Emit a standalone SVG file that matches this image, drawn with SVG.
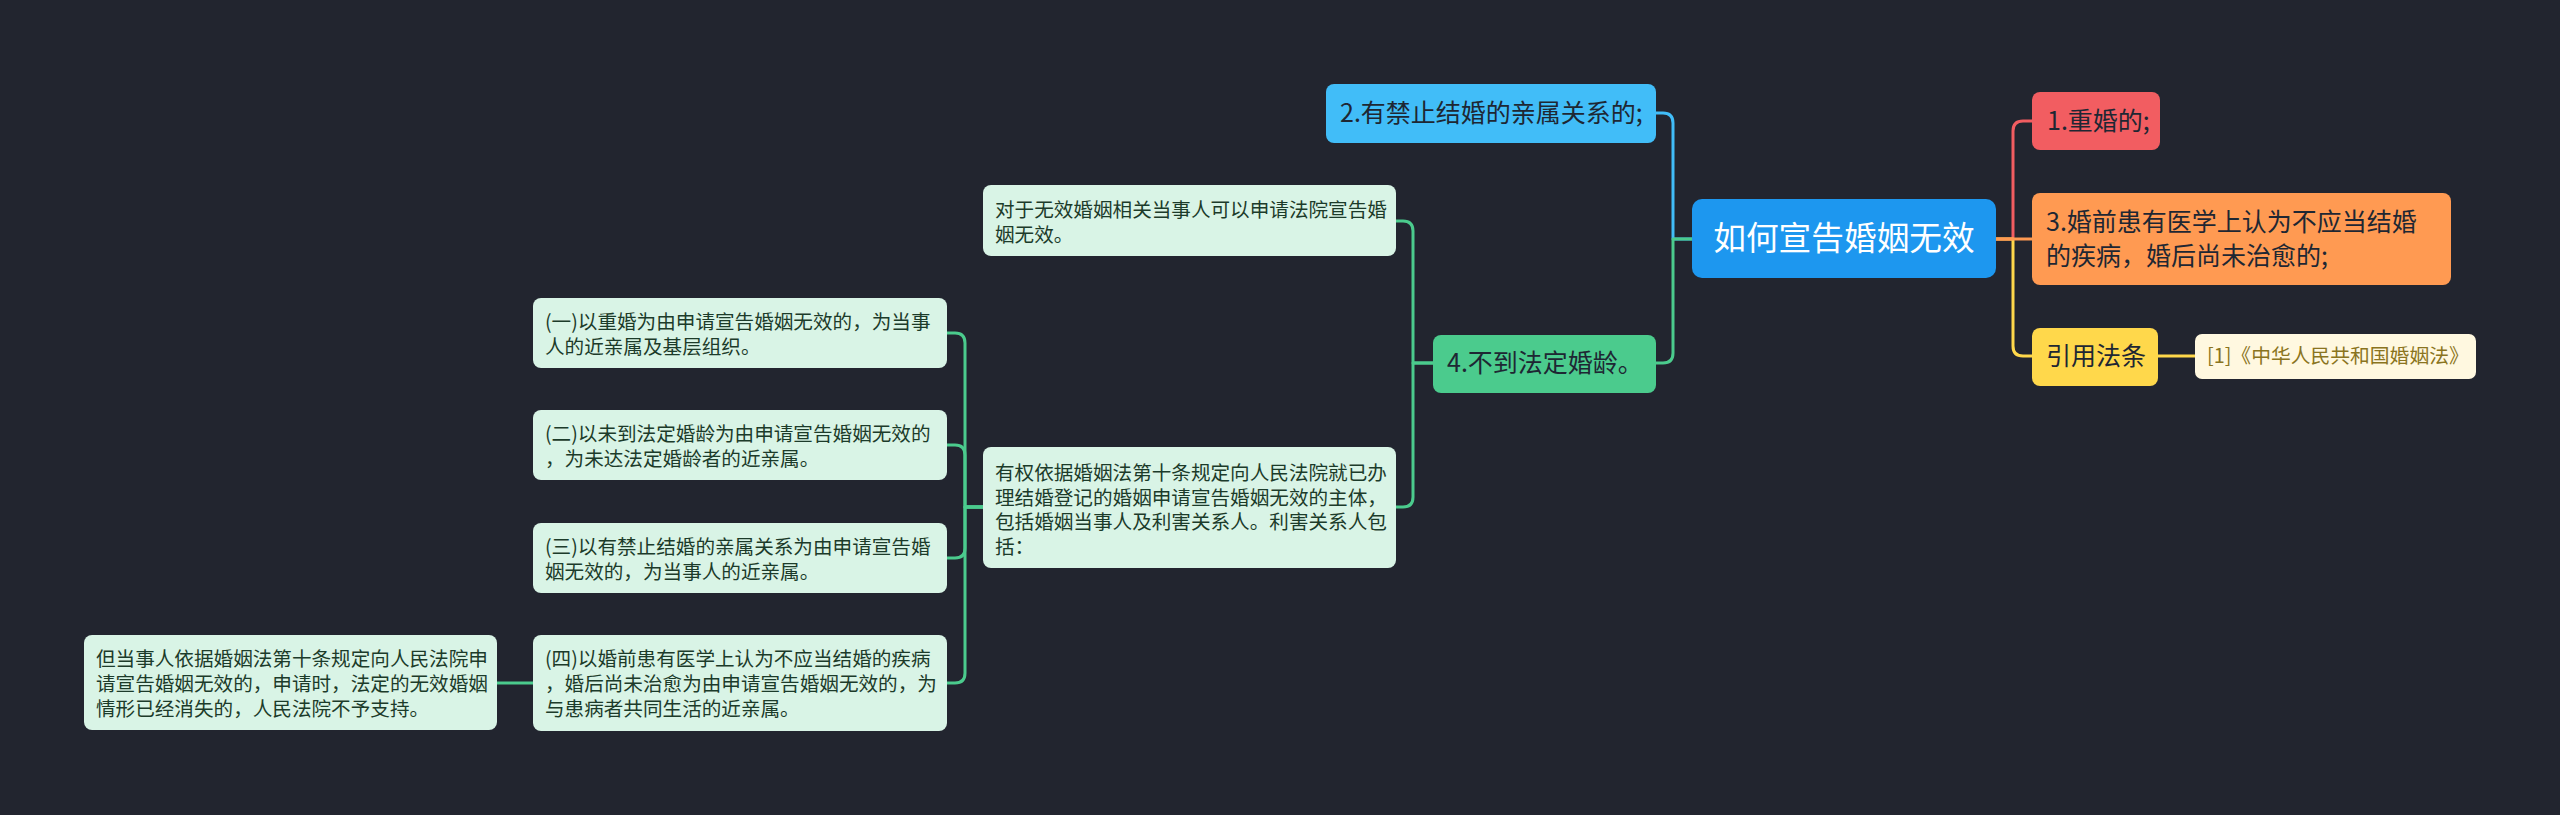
<svg xmlns="http://www.w3.org/2000/svg" width="2560" height="815" viewBox="0 0 2560 815">
<style>
text{font-family:"Noto Sans CJK SC","Noto Sans",sans-serif;}
.main{font-size:25px;fill:#1e2733;}
.root{font-size:32.7px;fill:#ffffff;}
.leaf{font-size:19.6px;fill:#1c3b2a;}
.cite{font-size:19.8px;fill:#8a7420;}
.lf{fill:#d9f4e6;}
.c{fill:none;stroke-width:3;stroke-linecap:round;stroke-linejoin:round;}
</style>
<rect width="2560" height="815" fill="#22252f"/>
<g id="connectors">
<path class="c" stroke="#f25d61" d="M1996,239 H2013 V131 Q2013,121 2023,121 H2032"/>
<path class="c" stroke="#ffd84b" d="M1996,239 H2013 V346 Q2013,356 2023,356 H2032"/>
<path class="c" stroke="#ff9a52" d="M1996,239 H2032"/>
<path class="c" stroke="#ffd84b" d="M2158,356 H2195"/>
<path class="c" stroke="#41bdf8" d="M1692,239 H1673 V123 Q1673,113 1663,113 H1656"/>
<path class="c" stroke="#4bcb8d" d="M1692,239 H1673 V353 Q1673,363 1663,363 H1656"/>
<path class="c" stroke="#4bcb8d" d="M1433,363 H1413 V231 Q1413,221 1403,221 H1396"/>
<path class="c" stroke="#4bcb8d" d="M1433,363 H1413 V497 Q1413,507 1403,507 H1396"/>
<path class="c" stroke="#4bcb8d" d="M983,507 H965 V343 Q965,333 955,333 H947"/>
<path class="c" stroke="#4bcb8d" d="M983,507 H965 V455 Q965,445 955,445 H947"/>
<path class="c" stroke="#4bcb8d" d="M983,507 H965 V548 Q965,558 955,558 H947"/>
<path class="c" stroke="#4bcb8d" d="M983,507 H965 V673 Q965,683 955,683 H947"/>
<path class="c" stroke="#4bcb8d" d="M533,683 H497"/>
</g>
<g id="root">
<rect x="1692" y="199" width="304" height="79" rx="10" fill="#1d97ef"/>
<text class="root" x="1844" y="250" text-anchor="middle">如何宣告婚姻无效</text>
</g>
<g id="n1">
<rect x="2032" y="92" width="128" height="58" rx="8" fill="#f25d61"/>
<text class="main" x="2047" y="130">1.重婚的;</text>
</g>
<g id="n3">
<rect x="2032" y="193" width="419" height="92" rx="8" fill="#ff9a52"/>
<text class="main" x="2046" y="231">3.婚前患有医学上认为不应当结婚</text>
<text class="main" x="2046" y="265">的疾病，婚后尚未治愈的;</text>
</g>
<g id="cite-label">
<rect x="2032" y="328" width="126" height="58" rx="8" fill="#ffd84b"/>
<text class="main" x="2046" y="365">引用法条</text>
</g>
<g id="cite">
<rect x="2195" y="334" width="281" height="45" rx="7" fill="#fff8e0"/>
<text class="cite" x="2207" y="363">[1]《中华人民共和国婚姻法》</text>
</g>
<g id="n2">
<rect x="1326" y="84" width="330" height="59" rx="8" fill="#41bdf8"/>
<text class="main" x="1340" y="122">2.有禁止结婚的亲属关系的;</text>
</g>
<g id="n4">
<rect x="1433" y="335" width="223" height="58" rx="8" fill="#4bcb8d"/>
<text class="main" x="1447" y="372">4.不到法定婚龄。</text>
</g>
<g id="l1">
<rect class="lf" x="983" y="185" width="413" height="71" rx="8"/>
<text class="leaf" x="995" y="217">对于无效婚姻相关当事人可以申请法院宣告婚</text>
<text class="leaf" x="995" y="242">姻无效。</text>
</g>
<g id="l2">
<rect class="lf" x="983" y="447" width="413" height="121" rx="8"/>
<text class="leaf" x="995" y="480">有权依据婚姻法第十条规定向人民法院就已办</text>
<text class="leaf" x="995" y="505">理结婚登记的婚姻申请宣告婚姻无效的主体，</text>
<text class="leaf" x="995" y="529">包括婚姻当事人及利害关系人。利害关系人包</text>
<text class="leaf" x="995" y="554">括：</text>
</g>
<g id="s1">
<rect class="lf" x="533" y="298" width="414" height="70" rx="8"/>
<text class="leaf" x="545" y="329">(一)以重婚为由申请宣告婚姻无效的，为当事</text>
<text class="leaf" x="545" y="354">人的近亲属及基层组织。</text>
</g>
<g id="s2">
<rect class="lf" x="533" y="410" width="414" height="70" rx="8"/>
<text class="leaf" x="545" y="441">(二)以未到法定婚龄为由申请宣告婚姻无效的</text>
<text class="leaf" x="545" y="466">，为未达法定婚龄者的近亲属。</text>
</g>
<g id="s3">
<rect class="lf" x="533" y="523" width="414" height="70" rx="8"/>
<text class="leaf" x="545" y="554">(三)以有禁止结婚的亲属关系为由申请宣告婚</text>
<text class="leaf" x="545" y="579">姻无效的，为当事人的近亲属。</text>
</g>
<g id="s4">
<rect class="lf" x="533" y="635" width="414" height="96" rx="8"/>
<text class="leaf" x="545" y="666">(四)以婚前患有医学上认为不应当结婚的疾病</text>
<text class="leaf" x="545" y="691">，婚后尚未治愈为由申请宣告婚姻无效的，为</text>
<text class="leaf" x="545" y="716">与患病者共同生活的近亲属。</text>
</g>
<g id="s4a">
<rect class="lf" x="84" y="635" width="413" height="95" rx="8"/>
<text class="leaf" x="96" y="666">但当事人依据婚姻法第十条规定向人民法院申</text>
<text class="leaf" x="96" y="691">请宣告婚姻无效的，申请时，法定的无效婚姻</text>
<text class="leaf" x="96" y="716">情形已经消失的，人民法院不予支持。</text>
</g>
</svg>
